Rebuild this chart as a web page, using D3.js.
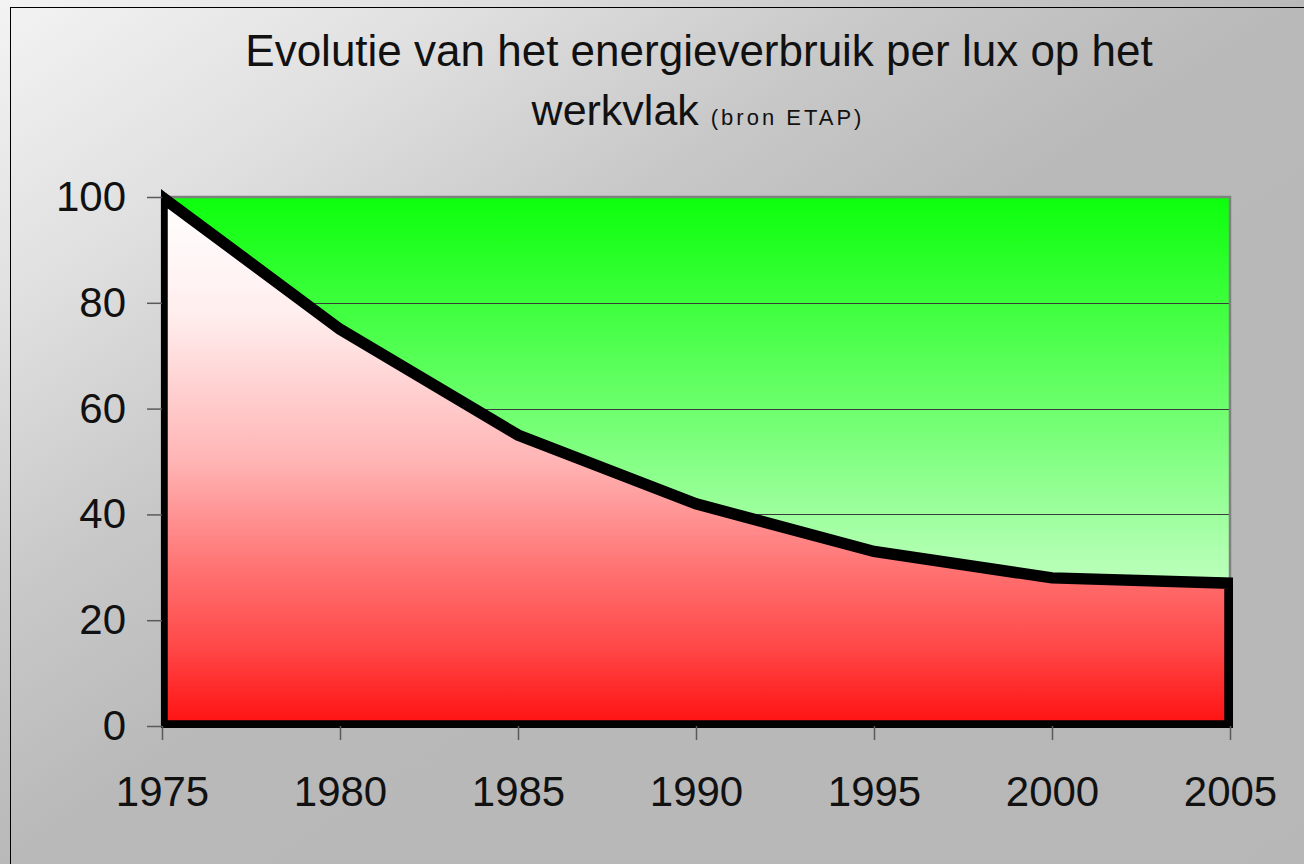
<!DOCTYPE html>
<html>
<head>
<meta charset="utf-8">
<script src="https://cdn.jsdelivr.net/npm/d3@7"></script>
<style>
    body { margin: 0; }
    svg { display: block; font-family: "Liberation Sans", Arial, sans-serif; }
</style>
</head>
<body>
<svg id="chart"></svg>
<script>
// chart data
let years = [1975, 1980, 1985, 1990, 1995, 2000, 2005];
let values = [100, 75, 55, 42, 33, 28, 27];
let yTicks = [0, 20, 40, 60, 80, 100];
let gridTicks = [20, 40, 60, 80];
let titleLine1 = "Evolutie van het energieverbruik per lux op het";
let titleLine2 = "werkvlak";
let titleSource = "(bron ETAP)";

function drawChart(width, height) {
    let svg = d3.select("#chart")
                .attr("width", width)
                .attr("height", height);

    let plot = { left: 162, right: 1230, top: 197, bottom: 726 };

    let defs = svg.append("defs");

    // grey page background, light in the top left corner
    let bg = defs.append("linearGradient")
                .attr("id", "bg")
                .attr("x1", 0).attr("y1", 0)
                .attr("x2", 1).attr("y2", 1);
    bg.append("stop").attr("offset", "0").attr("stop-color", "#f3f3f3");
    bg.append("stop").attr("offset", "0.18").attr("stop-color", "#e0e0e0");
    bg.append("stop").attr("offset", "0.35").attr("stop-color", "#c8c8c8");
    bg.append("stop").attr("offset", "0.5").attr("stop-color", "#b9b9b9");
    bg.append("stop").attr("offset", "1").attr("stop-color", "#b7b7b7");

    // green plot area
    let green = defs.append("linearGradient")
                .attr("id", "green")
                .attr("gradientUnits", "userSpaceOnUse")
                .attr("x1", 0).attr("y1", plot.top)
                .attr("x2", 0).attr("y2", plot.bottom);
    green.append("stop").attr("offset", "0").attr("stop-color", "#0cff0c");
    green.append("stop").attr("offset", "1").attr("stop-color", "#ffffff");

    // white to red under the curve
    let red = defs.append("linearGradient")
                .attr("id", "red")
                .attr("gradientUnits", "userSpaceOnUse")
                .attr("x1", 0).attr("y1", plot.top)
                .attr("x2", 0).attr("y2", plot.bottom);
    red.append("stop").attr("offset", "0").attr("stop-color", "#ffffff");
    red.append("stop").attr("offset", "0.22").attr("stop-color", "#ffeeee");
    red.append("stop").attr("offset", "0.5").attr("stop-color", "#ffb4b4");
    red.append("stop").attr("offset", "0.7").attr("stop-color", "#ff7373");
    red.append("stop").attr("offset", "0.85").attr("stop-color", "#ff4848");
    red.append("stop").attr("offset", "1").attr("stop-color", "#ff1010");

    defs.append("clipPath")
        .attr("id", "clip")
        .append("rect")
            .attr("x", plot.left - 1)
            .attr("y", 0)
            .attr("width", plot.right - plot.left + 4)
            .attr("height", plot.bottom + 2);

    svg.append("rect")
        .attr("width", width)
        .attr("height", height)
        .attr("fill", "url(#bg)");

    // outer chart border, runs off the picture on the right and bottom
    svg.append("rect")
        .attr("x", 10.5)
        .attr("y", 7.5)
        .attr("width", width)
        .attr("height", height)
        .attr("fill", "none")
        .attr("stroke", "#000")
        .attr("stroke-width", 1);

    let xScale = d3.scaleLinear()
                    .domain([years[0], years[years.length - 1]])
                    .range([plot.left, plot.right]);

    let yScale = d3.scaleLinear()
                    .domain([0, 100])
                    .range([plot.bottom, plot.top]);

    svg.append("rect")
        .attr("x", plot.left)
        .attr("y", plot.top)
        .attr("width", plot.right - plot.left)
        .attr("height", plot.bottom - plot.top)
        .attr("fill", "url(#green)");

    // gridlines
    svg.append("g")
        .selectAll("line")
        .data(gridTicks)
        .enter()
        .append("line")
            .attr("x1", plot.left)
            .attr("x2", plot.right)
            .attr("y1", d => Math.round(yScale(d)) + 0.5)
            .attr("y2", d => Math.round(yScale(d)) + 0.5)
            .attr("stroke", "#3a3a3a")
            .attr("stroke-width", 1);

    svg.append("rect")
        .attr("x", plot.left)
        .attr("y", plot.top)
        .attr("width", plot.right - plot.left)
        .attr("height", plot.bottom - plot.top)
        .attr("fill", "none")
        .attr("stroke", "#808080")
        .attr("stroke-width", 2.5);

    let data = years.map((d, i) => ({ year: d, value: values[i] }));

    let area = d3.area()
                .x(d => xScale(d.year))
                .y0(yScale(0))
                .y1(d => yScale(d.value));

    // area with its thick black outline
    svg.append("path")
        .datum(data)
        .attr("d", d => area(d) )
        .attr("fill", "url(#red)")
        .attr("stroke", "#000")
        .attr("stroke-width", 11.5)
        .attr("stroke-linejoin", "miter")
        .attr("clip-path", "url(#clip)");

    let yAxis = d3.axisLeft(yScale)
                    .tickValues(yTicks)
                    .tickSize(15)
                    .tickPadding(21);

    let xAxis = d3.axisBottom(xScale)
                    .tickValues(years)
                    .tickSize(14)
                    .tickPadding(36)
                    .tickFormat(d3.format(".0f"));

    let gy = svg.append("g")
        .attr("transform", `translate(${plot.left},0)`)
        .call(yAxis);

    let gx = svg.append("g")
        .attr("transform", `translate(0,${plot.bottom})`)
        .call(xAxis);

    [gx, gy].forEach(g => {
        g.select(".domain").remove();
        g.selectAll(".tick line")
            .attr("stroke", "#5a5a5a")
            .attr("stroke-width", 1.5);
        g.selectAll(".tick text")
            .attr("fill", "#111")
            .style("font-family", "'Liberation Sans', Arial, sans-serif")
            .style("font-size", "42px");
    });

    // title, two lines
    svg.append("text")
        .attr("x", 699)
        .attr("y", 66)
        .attr("fill", "#111")
        .style("text-anchor", "middle")
        .style("font-size", "44px")
        .text(titleLine1);

    let t2 = svg.append("text")
        .attr("x", 698)
        .attr("y", 125)
        .attr("fill", "#111")
        .style("text-anchor", "middle");

    t2.append("tspan")
        .style("font-size", "43px")
        .text(titleLine2 + " ");

    t2.append("tspan")
        .style("font-size", "22px")
        .style("letter-spacing", "3px")
        .text(titleSource);
}

drawChart(1304, 864);
</script>
</body>
</html>
